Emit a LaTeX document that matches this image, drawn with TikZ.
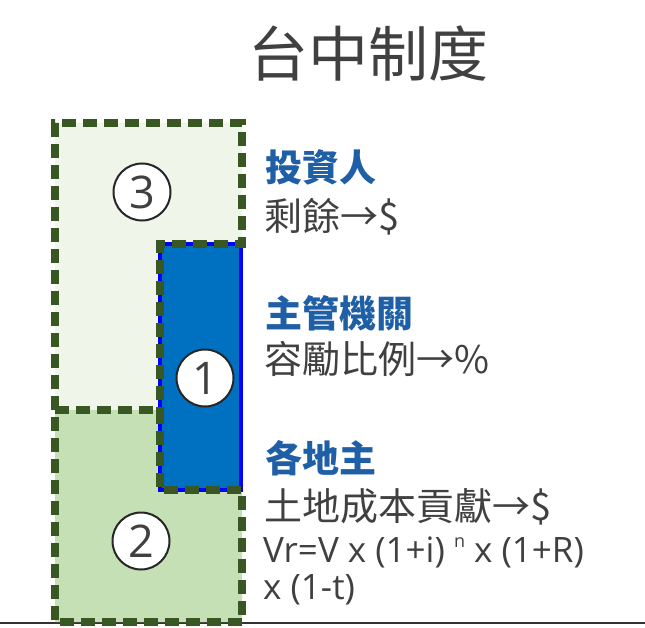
\documentclass[tikz,border=0pt]{standalone}
\usepackage{fontspec}
\setmainfont{Noto Sans CJK TC}
\newfontfamily\latinfont{Open Sans}
\definecolor{dgreen}{HTML}{385723}
\definecolor{lgreen}{HTML}{F0F5EA}
\definecolor{mgreen}{HTML}{C5E0B4}
\definecolor{bfill}{HTML}{0070C0}
\definecolor{bline}{HTML}{0000FF}
\definecolor{headblue}{HTML}{1F5FA6}
\definecolor{txtgray}{HTML}{404040}
\tikzset{
  regionborder/.style={draw=dgreen, line width=7.5pt, dash pattern=on 14pt off 7pt, line join=miter},
  numcircle/.style={circle, draw=black!85, line width=2pt, fill=white, minimum size=57pt, inner sep=0pt, text=txtgray, font=\latinfont\fontsize{45}{45}\selectfont},
  heading/.style={anchor=base west, inner sep=0pt, text=headblue, font=\fontsize{37}{37}\selectfont\bfseries},
  bodytext/.style={anchor=base west, inner sep=0pt, text=txtgray, font=\fontsize{38}{38}\selectfont},
  formula/.style={anchor=base west, inner sep=0pt, text=txtgray, font=\latinfont\fontsize{35}{35}\selectfont}
}
\begin{document}
\begin{tikzpicture}[x=1pt,y=-1pt]
\useasboundingbox (0,0) rectangle (645,628);
% baseline rule
\draw[line width=1.5pt, black!80] (0,623) -- (645,623);
% region fills
\fill[lgreen] (55,123) -- (242,123) -- (242,244) -- (160,244) -- (160,410) -- (55,410) -- cycle;
\fill[mgreen] (55,410) -- (160,410) -- (160,490) -- (242,490) -- (242,622) -- (55,622) -- cycle;
\filldraw[fill=bfill, draw=bline, line width=4pt] (160,244) rectangle (241,490);
% dashed borders (shared edge drawn once)
\draw[regionborder] (55,410) -- (55,123) -- (242,123) -- (242,244) -- (160,244) -- (160,410);
\draw[regionborder] (55,410) -- (160,410) -- (160,490) -- (242,490) -- (242,622) -- (55,622) -- cycle;
% numbered circles
\node[numcircle] (c3) at (142,192) {3};
\node[numcircle] (c1) at (205,378) {1};
\node[numcircle] (c2) at (141,541) {2};
% title
\node[anchor=base, inner sep=0pt, text=txtgray, font=\fontsize{60}{60}\selectfont] (title) at (368,77) {台中制度};
% texts
\node[heading] (h1) at (265,182) {投資人};
\node[bodytext] (b1) at (264,231) {剩餘→\$};
\node[heading] (h2) at (265,327) {主管機關};
\node[bodytext] (b2) at (264,373) {容勵比例→\%};
\node[heading] (h3) at (265,472) {各地主};
\node[bodytext] (b3) at (264,520) {土地成本貢獻→\$};
\node[formula] (f1) at (263,562) {Vr=V x (1+i) \raisebox{0.42em}{\fontsize{18}{18}\selectfont n} x (1+R)};
\node[formula] (f2) at (263,599) {x (1-t)};
\end{tikzpicture}
\end{document}
